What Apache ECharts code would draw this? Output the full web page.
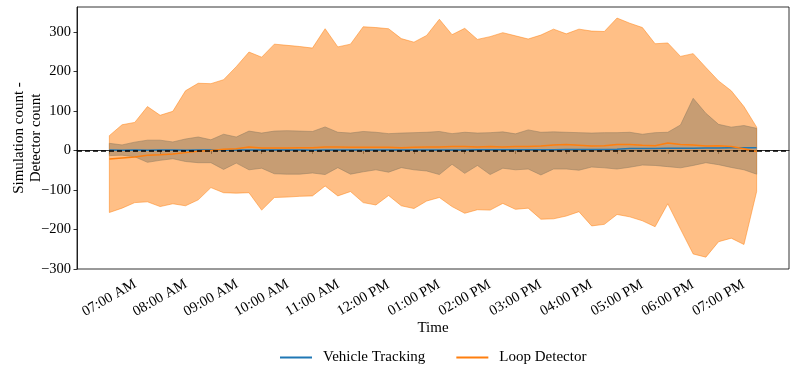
<!DOCTYPE html>
<html>
<head>
<meta charset="utf-8">
<script src="https://cdn.jsdelivr.net/npm/echarts@6/dist/echarts.min.js"></script>
<style>
  html, body { margin: 0; padding: 0; background: #fff; }
  #chart { width: 797px; height: 376px; }
</style>
</head>
<body>
<div id="chart"></div>
<script>
// 15-minute intervals, 07:00 -> 19:45
const times = [
  '07:00', '07:15', '07:30', '07:45', '08:00', '08:15', '08:30', '08:45',
  '09:00', '09:15', '09:30', '09:45', '10:00', '10:15', '10:30', '10:45',
  '11:00', '11:15', '11:30', '11:45', '12:00', '12:15', '12:30', '12:45',
  '13:00', '13:15', '13:30', '13:45', '14:00', '14:15', '14:30', '14:45',
  '15:00', '15:15', '15:30', '15:45', '16:00', '16:15', '16:30', '16:45',
  '17:00', '17:15', '17:30', '17:45', '18:00', '18:15', '18:30', '18:45',
  '19:00', '19:15', '19:30', '19:45'
]

// Vehicle Tracking: mean and band
const trackMean = [
  1, 0.5, 1, 0.5, 1, 1, 0.5, 1, 1, 0.5, 1, 1, 1, 1,
  1, 1, 0.5, 1, 1, 1, 1, 1, 1, 1, 1, 1,
  1, 1, 1, 1.5, 2, 2, 2, 2, 2, 2, 2.5, 2.5,
  2.5, 2.5, 3, 5, 5, 5, 5.5, 5.5, 5.5, 6, 6, 7, 7, 7
]
const trackHigh = [
  18, 14, 21, 26, 26, 21.5, 29, 34, 27, 41, 34, 49, 44, 49,
  50, 49, 48, 59.5, 46, 44, 48, 46, 42.5, 44, 45, 46,
  48, 42.5, 46, 44, 45, 47, 42, 52, 46, 47, 46, 45,
  44, 45, 45, 46, 41, 45, 46, 64.5, 132, 94, 66, 59, 63, 56
]
const trackLow = [
  -13, -12, -16, -30, -25, -21, -28, -31, -31, -48, -32, -49, -45, -59,
  -60, -60, -57, -61, -43.5, -60, -54, -49, -55, -43.5, -49, -52,
  -61, -35, -58, -38, -61, -45, -49, -47, -62, -47, -47, -50,
  -42, -44, -47, -42.5, -37, -38, -41, -44, -38, -31, -36, -43, -49, -60
]

// Loop Detector: mean and band
const loopMean = [
  -21.5, -19, -16.5, -12, -11, -9, -5.5, -2, 0, 3, 4.5, 9, 6, 6,
  6, 7, 7, 9, 9, 8, 8, 8, 8, 7, 8, 9,
  9, 10, 10, 9, 10, 9, 10, 10, 11, 14, 15, 13,
  11, 12, 15, 15, 13, 12, 19, 15, 14, 11, 12, 10, 4.5, -3
]
const loopHigh = [
  37.5, 65, 71, 111, 89, 99, 151, 170, 169, 179, 212, 249, 236, 269,
  266, 263, 259, 308, 262, 269, 313, 311, 308, 283, 274, 291,
  332, 293, 309, 281, 288, 298, 290, 282, 292, 307, 295, 307,
  302, 301, 335, 322, 311, 270, 272, 238, 245, 210, 176, 151, 111, 59
]
const loopLow = [
  -157, -146, -132, -130, -142, -135, -140, -125, -94, -107, -108, -107, -151, -119,
  -118, -116, -115, -90, -115, -104, -132, -138, -114, -140, -147, -128,
  -119, -142, -159, -150, -151, -134, -149, -146, -174, -173, -166, -155,
  -191, -187, -162, -168, -178, -193, -135, -199, -262, -270, -231, -222, -238, -104
]

const tickHours = [7, 8, 9, 10, 11, 12, 13, 14, 15, 16, 17, 18, 19]
const tickLabels = [
  '07:00 AM', '08:00 AM', '09:00 AM', '10:00 AM', '11:00 AM', '12:00 PM',
  '01:00 PM', '02:00 PM', '03:00 PM', '04:00 PM', '05:00 PM', '06:00 PM', '07:00 PM'
]
const yTicks = [-300, -200, -100, 0, 100, 200, 300]

const FONT = "'Liberation Serif', 'Times New Roman', serif"

const toHour = (s) => {
  const [h, m] = s.split(':').map(Number)
  return h + m / 60
}
const hours = times.map(toHour)

// whole band drawn as one polygon through the axis scales
const bandSeries = (name, lows, highs, color) => ({
  type: 'custom',
  name: name,
  clip: true,
  silent: true,
  encode: { x: 0, y: [1, 2] },
  data: hours.map((h, i) => [h, lows[i], highs[i]]),
  renderItem: (params, api) => {
    if (params.dataIndex !== 0) return null
    const upper = hours.map((h, i) => api.coord([h, highs[i]]))
    const lower = hours.map((h, i) => api.coord([h, lows[i]])).reverse()
    return {
      type: 'polygon',
      shape: { points: upper.concat(lower) },
      style: { fill: color, stroke: color, lineWidth: 1 }
    }
  }
})

const chart = echarts.init(document.getElementById('chart'))

const option = {
  animation: false,
  textStyle: { fontFamily: FONT, color: '#000' },
  grid: {
    left: 77,
    right: 8,
    top: 7,
    bottom: 107,
    outerBoundsMode: 'none',
    containLabel: false,
    show: true,
    borderColor: '#000',
    borderWidth: 0.8,
    backgroundColor: 'transparent'
  },
  legend: {
    top: 345,
    left: 275,
    icon: 'rect',
    itemWidth: 32,
    itemHeight: 2,
    itemGap: 31,
    data: ['Vehicle Tracking', 'Loop Detector'],
    textStyle: { fontFamily: FONT, fontSize: 15, color: '#000', padding: [0, 0, 0, 6] }
  },
  xAxis: {
    type: 'value',
    min: 6.3625,
    max: 20.3875,
    name: 'Time',
    nameLocation: 'middle',
    nameGap: 52,
    nameMoveOverlap: false,
    nameTextStyle: { fontFamily: FONT, fontSize: 15, color: '#000' },
    axisLine: { show: true, lineStyle: { color: '#000', width: 0.8 } },
    axisTick: { show: true, customValues: tickHours, length: 3.5, lineStyle: { color: '#000', width: 0.8 } },
    axisLabel: {
      customValues: tickHours,
      rotate: 30,
      align: 'center',
      verticalAlign: 'middle',
      margin: 29,
      fontFamily: FONT,
      fontSize: 14.5,
      color: '#000',
      formatter: (v) => tickLabels[tickHours.indexOf(Math.round(v))] || ''
    },
    splitLine: { show: false }
  },
  yAxis: {
    type: 'value',
    min: -300,
    max: 363,
    name: 'Simulation count -\nDetector count',
    nameLocation: 'middle',
    nameGap: 32,
    nameMoveOverlap: false,
    nameTextStyle: { fontFamily: FONT, fontSize: 15, color: '#000', lineHeight: 17 },
    axisLine: { show: true, lineStyle: { color: '#000', width: 0.8 } },
    axisTick: { show: true, customValues: yTicks, length: 3.5, lineStyle: { color: '#000', width: 0.8 } },
    axisLabel: {
      customValues: yTicks,
      margin: 6,
      fontFamily: FONT,
      fontSize: 14.5,
      color: '#000',
      formatter: (v) => String(v).replace('-', '\u2212')
    },
    splitLine: { show: false }
  },
  series: [
    bandSeries('Vehicle Tracking band', trackLow, trackHigh, 'rgba(31, 119, 180, 0.5)'),
    bandSeries('Loop Detector band', loopLow, loopHigh, 'rgba(255, 127, 14, 0.5)'),
    {
      type: 'line',
      name: 'Vehicle Tracking',
      symbol: 'none',
      color: '#1f77b4',
      lineStyle: { width: 1.5, color: '#1f77b4' },
      data: hours.map((h, i) => [h, trackMean[i]]),
      z: 3
    },
    {
      type: 'line',
      name: 'Loop Detector',
      symbol: 'none',
      color: '#ff7f0e',
      lineStyle: { width: 1.5, color: '#ff7f0e' },
      data: hours.map((h, i) => [h, loopMean[i]]),
      z: 4,
      markLine: {
        silent: true,
        symbol: 'none',
        label: { show: false },
        lineStyle: { color: '#000', type: [5, 3], width: 1.5 },
        data: [{ yAxis: 0 }],
        z: 10
      }
    }
  ]
}

chart.setOption(option)
</script>
</body>
</html>
